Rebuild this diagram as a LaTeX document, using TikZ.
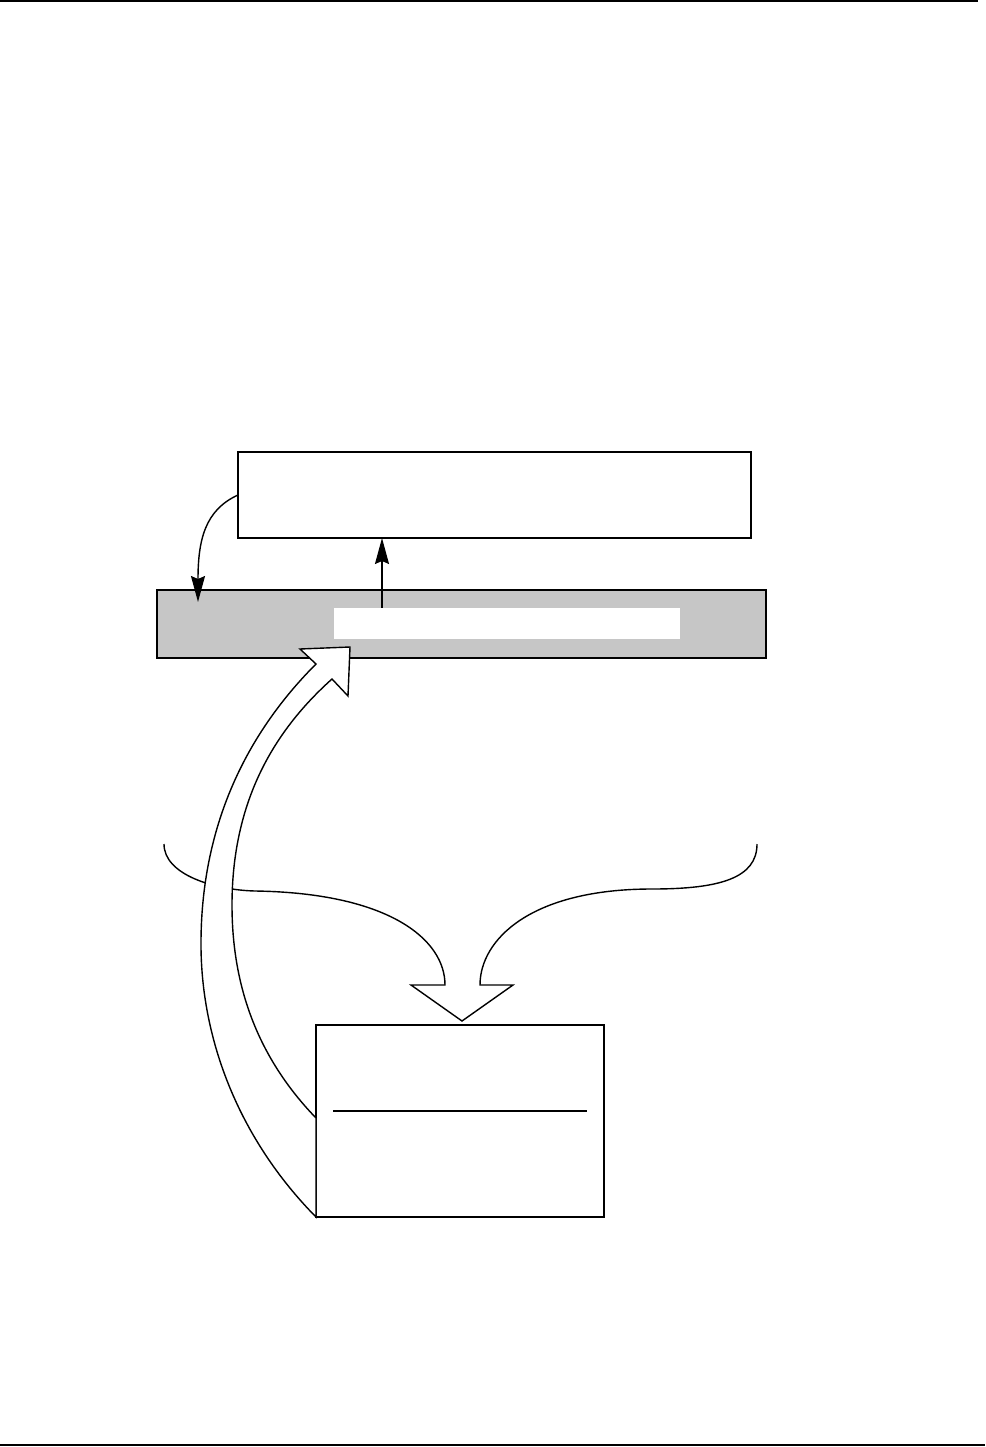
\documentclass[tikz,border=0pt]{standalone}
\usetikzlibrary{arrows.meta}
\definecolor{barGray}{HTML}{C6C6C6}

\begin{document}
\begin{tikzpicture}[x=1pt,y=-1pt,
    box/.style={draw, line width=1.8pt, inner sep=0pt, outer sep=0pt},
    thinarrow/.style={line width=1.4pt, -{Stealth[length=26pt,width=14pt,inset=3pt]}},
    bigarrow/.style={draw, fill=white, line width=1.4pt, line join=miter}]
    \useasboundingbox (0,0) rectangle (985,1447);
    % page rules
    \draw[line width=2pt] (0,1.5) -- (978,1.5);
    \draw[line width=2pt] (0,1445) -- (985,1445);
    % boxes
    \node[box, fill=barGray, minimum width=609pt, minimum height=68pt] (bar) at (461.5,624) {};
    \node[fill=white, inner sep=0pt, minimum width=346pt, minimum height=31pt] (strip) at (507,623.5) {};
    \node[box, minimum width=513pt, minimum height=86pt] (topbox) at (494.5,495) {};
    \node[box, minimum width=288pt, minimum height=192pt] (lowbox) at (460,1121) {};
    \draw[line width=1.8pt] (333,1111) -- (587,1111);
    % small arrows
    \coordinate (upx) at (382,0);
    \coordinate (barin) at (198,602);
    \draw[thinarrow] (strip.north -| upx) -- (topbox.south -| upx);
    \draw[thinarrow] (topbox.west) .. controls (205,510) and (198,540) .. (barin);
    % funnel into the lower box
    \draw[line width=1.4pt, line join=miter]
        (164,844) .. controls (164,875) and (215,890) .. (255,891)
        .. controls (390,893) and (445,940) .. (445,985)
        -- (411,985) -- (462,1021) -- (513,985) -- (480,985)
        .. controls (480,940) and (530,889) .. (652,889)
        .. controls (720,889) and (757,878) .. (757,844);
    % big curved arrow back to the bar
    \path[bigarrow]
        (lowbox.south west) .. controls (240,1140) and (200,1040) .. (201,940)
        .. controls (202,820) and (250,730) .. (316,664)
        -- (300,649) -- (350,647) -- (348,696) -- (332,679)
        .. controls (275,730) and (232,800) .. (232,905)
        .. controls (232,990) and (260,1060) .. (316,1118) -- cycle;
\end{tikzpicture}
\end{document}
